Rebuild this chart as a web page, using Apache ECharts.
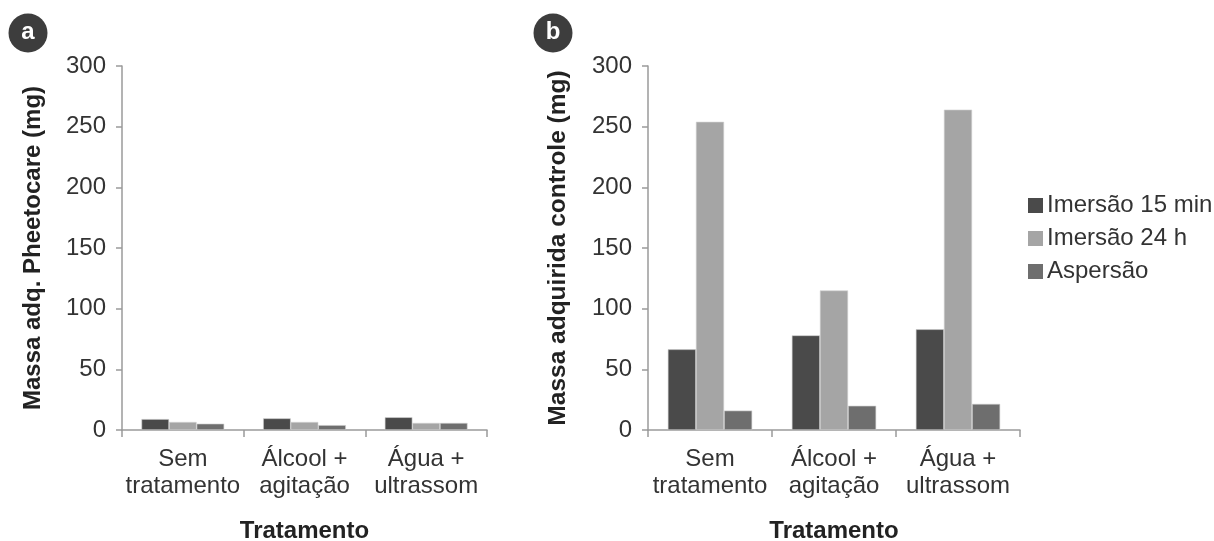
<!DOCTYPE html>
<html><head><meta charset="utf-8">
<script src="https://cdn.jsdelivr.net/npm/echarts@6/dist/echarts.min.js"></script>
<style>html,body{margin:0;padding:0;background:#fff}#c{width:1214px;height:541px}</style>
</head><body><div id="c"></div>
<script>
const categories = ['Sem\ntratamento', 'Álcool +\nagitação', 'Água +\nultrassom'];
const seriesNames = ['Imersão 15 min', 'Imersão 24 h', 'Aspersão'];
const colors = ['#4a4a4a', '#a5a5a5', '#6e6e6e'];
// Panel a: Pheetocare
const aImersao15 = [9, 9.6, 10.5];
const aImersao24 = [6.6, 6.6, 5.8];
const aAspersao = [5.2, 4, 5.8];
// Panel b: controle
const bImersao15 = [66.5, 78, 83];
const bImersao24 = [254, 115, 264];
const bAspersao = [16, 20, 21.5];
const yTicks = { min: 0, max: 300, interval: 50 };

const font = 'Liberation Sans, Arial, sans-serif';
const chart = echarts.init(document.getElementById('c'));
function xAxis(idx) {
  return {
    type: 'category', gridIndex: idx, data: categories,
    axisLine: { lineStyle: { color: '#9a9a9a', width: 1.5 } },
    axisTick: { show: true, length: 7, lineStyle: { color: '#9a9a9a', width: 1.5 } },
    axisLabel: { interval: 0, color: '#333', fontSize: 24, fontFamily: font, lineHeight: 27, margin: 16 },
    name: 'Tratamento', nameLocation: 'middle', nameGap: 89,
    nameTextStyle: { color: '#222', fontSize: 24, fontWeight: 'bold', fontFamily: font }
  };
}
function yAxis(idx, name, size) {
  return {
    type: 'value', gridIndex: idx, min: yTicks.min, max: yTicks.max, interval: yTicks.interval,
    splitLine: { show: false },
    axisLine: { show: true, lineStyle: { color: '#9a9a9a', width: 1.5 } },
    axisTick: { show: true, length: 6, lineStyle: { color: '#9a9a9a', width: 1.5 } },
    axisLabel: { color: '#333', fontSize: 24, fontFamily: font, margin: 16 },
    name: name, nameLocation: 'middle', nameGap: 77, nameRotate: 90,
    nameTextStyle: { color: '#222', fontSize: size, fontWeight: 'bold', fontFamily: font }
  };
}
function bars(idx, arrs) {
  return arrs.map((d, i) => ({
    type: 'bar', name: seriesNames[i], xAxisIndex: idx, yAxisIndex: idx, data: d,
    barGap: '0%', barCategoryGap: '32%',
    itemStyle: { color: colors[i], borderColor: '#d0d0d0', borderWidth: 0.6 }
  }));
}
chart.setOption({
  animation: false,
  grid: [
    { left: 122, right: 727, top: 66, bottom: 111, outerBoundsMode: 'none', containLabel: false },
    { left: 648, right: 194, top: 66, bottom: 111, outerBoundsMode: 'none', containLabel: false }
  ],
  xAxis: [xAxis(0), xAxis(1)],
  yAxis: [yAxis(0, 'Massa adq. Pheetocare (mg)', 24), yAxis(1, 'Massa adquirida controle (mg)', 24.5)],
  legend: {
    orient: 'vertical', left: 1023, top: 188, itemWidth: 15, itemHeight: 15, itemGap: 8,
    icon: 'rect', data: seriesNames,
    itemStyle: { borderWidth: 0 },
    textStyle: { color: '#333', fontSize: 24, lineHeight: 25, fontFamily: font, padding: [0, 0, 0, -1] }
  },
  graphic: [
    { type: 'circle', shape: { cx: 28, cy: 33, r: 19.5 }, style: { fill: '#3d3d3d' } },
    { type: 'text', x: 28, y: 32, style: { text: 'a', fill: '#fff', font: 'bold 24px ' + font, align: 'center', verticalAlign: 'middle' } },
    { type: 'circle', shape: { cx: 553, cy: 33, r: 19.5 }, style: { fill: '#3d3d3d' } },
    { type: 'text', x: 553, y: 32, style: { text: 'b', fill: '#fff', font: 'bold 24px ' + font, align: 'center', verticalAlign: 'middle' } }
  ],
  series: [...bars(0, [aImersao15, aImersao24, aAspersao]), ...bars(1, [bImersao15, bImersao24, bAspersao])]
});
</script></body></html>
